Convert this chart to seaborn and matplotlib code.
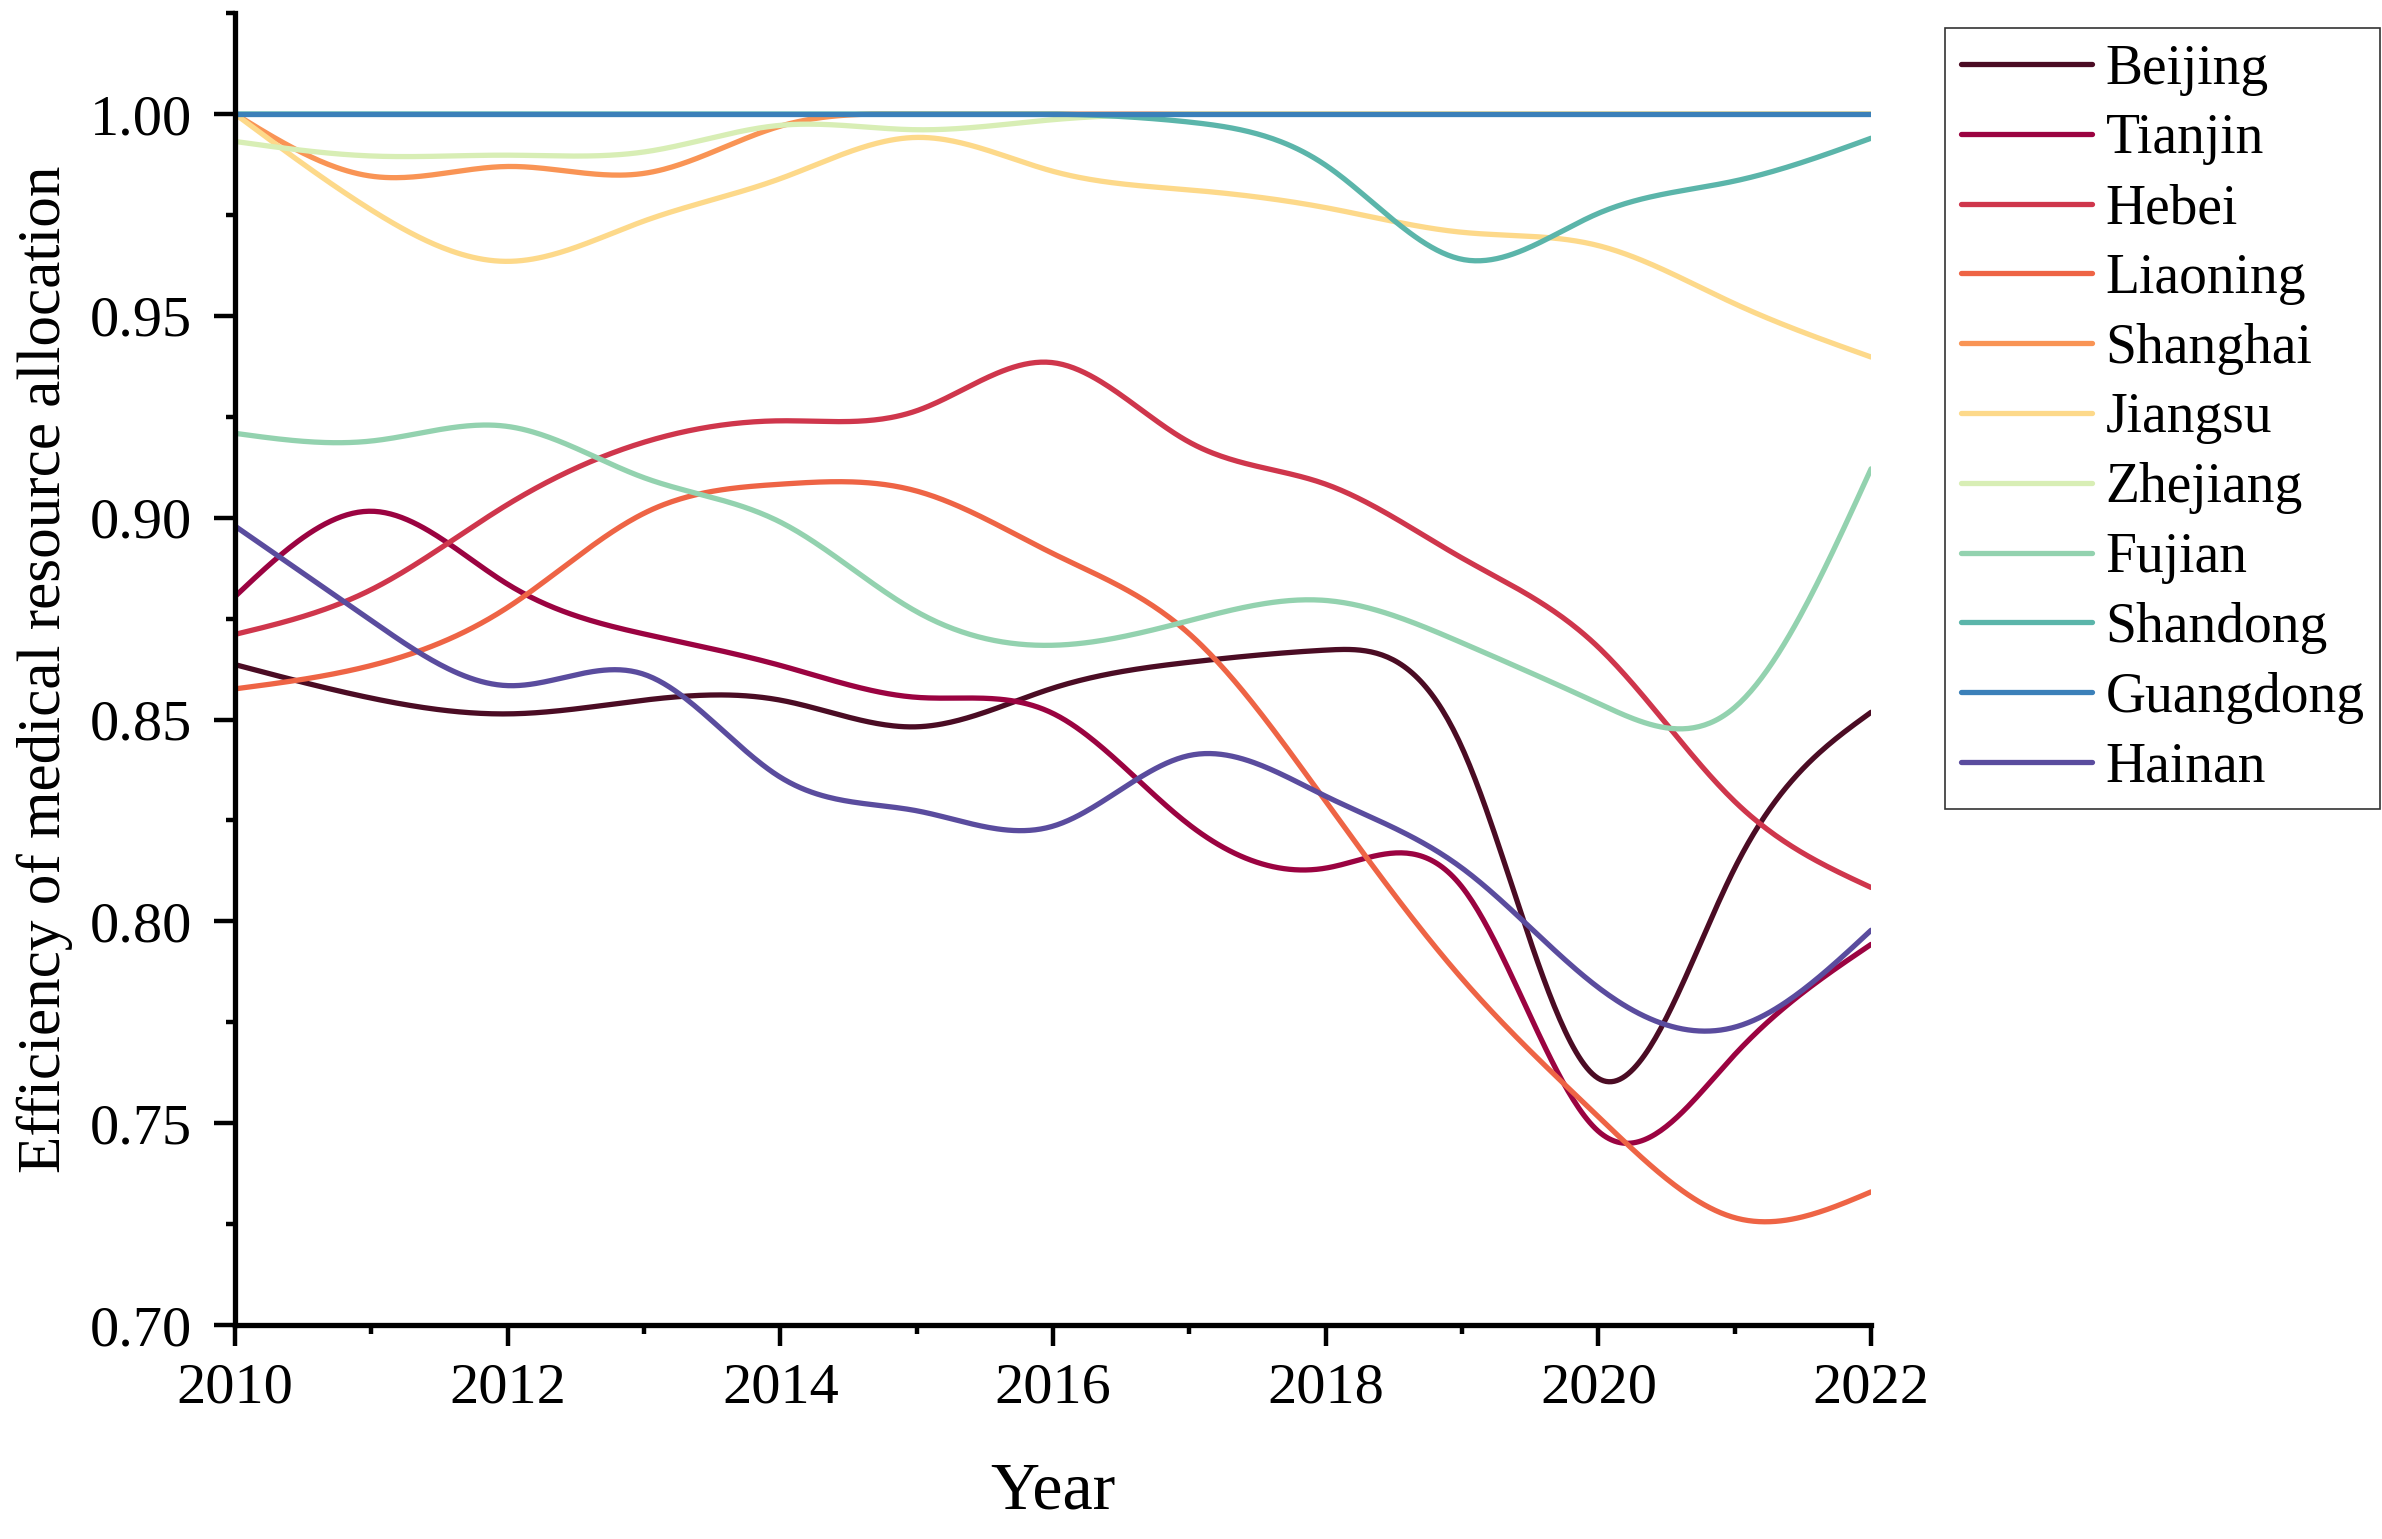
import numpy as np
import pandas as pd
import seaborn as sns
import matplotlib
matplotlib.use('Agg')
import matplotlib.pyplot as plt
from matplotlib.ticker import MultipleLocator

# yearly efficiency values
years = list(range(2010, 2023))
beijing = [0.8636, 0.8553, 0.8514, 0.8548, 0.8548, 0.8482, 0.8578, 0.8642, 0.8672, 0.8430, 0.7611, 0.8132, 0.8518]
tianjin = [0.8805, 0.9016, 0.8835, 0.8712, 0.8634, 0.8555, 0.8515, 0.8239, 0.8132, 0.8085, 0.7480, 0.7670, 0.7943]
hebei = [0.8711, 0.8822, 0.9033, 0.9187, 0.9240, 0.9265, 0.9384, 0.9187, 0.9083, 0.8900, 0.8679, 0.8297, 0.8084]
liaoning = [0.8576, 0.8634, 0.8778, 0.9011, 0.9083, 0.9066, 0.8911, 0.8712, 0.8297, 0.7858, 0.7516, 0.7266, 0.7330]
shanghai = [1.0, 0.9846, 0.9870, 0.9853, 0.9970, 1.0, 1.0, 1.0, 1.0, 1.0, 1.0, 1.0, 1.0]
jiangsu = [1.0, 0.9762, 0.9635, 0.9735, 0.9840, 0.9942, 0.9858, 0.9812, 0.9768, 0.9707, 0.9674, 0.9530, 0.9398]
zhejiang = [0.9932, 0.9896, 0.9898, 0.9906, 0.9972, 0.9961, 0.9986, 1.0, 1.0, 1.0, 1.0, 1.0, 1.0]
fujian = [0.9209, 0.9190, 0.9226, 0.9099, 0.8989, 0.8767, 0.8684, 0.8745, 0.8795, 0.8690, 0.8540, 0.8530, 0.9121]
shandong = [1.0, 1.0, 1.0, 1.0, 1.0, 1.0, 1.0, 0.9980, 0.9873, 0.9640, 0.9754, 0.9834, 0.9940]
guangdong = [1.0] * 13
hainan = [0.8979, 0.8745, 0.8584, 0.8612, 0.8357, 0.8274, 0.8236, 0.8411, 0.8310, 0.8132, 0.7836, 0.7738, 0.7978]

provinces = ['Beijing', 'Tianjin', 'Hebei', 'Liaoning', 'Shanghai', 'Jiangsu',
             'Zhejiang', 'Fujian', 'Shandong', 'Guangdong', 'Hainan']
series = [beijing, tianjin, hebei, liaoning, shanghai, jiangsu,
          zhejiang, fujian, shandong, guangdong, hainan]
colors = ['#4b0c24', '#9b0341', '#cf364c', '#ee6445', '#f99455', '#fdd98a',
          '#d8eeb5', '#93d2af', '#5bb5aa', '#3b80b9', '#5a4c9e']


def smooth(x, y, n=600):
    """ Natural cubic spline through the yearly points (line style only). """
    x = np.asarray(x, float)
    y = np.asarray(y, float)
    h = np.diff(x)
    k = len(x)
    a = np.zeros((k, k))
    r = np.zeros(k)
    a[0, 0] = a[-1, -1] = 1
    for i in range(1, k - 1):
        a[i, i - 1] = h[i - 1]
        a[i, i] = 2 * (h[i - 1] + h[i])
        a[i, i + 1] = h[i]
        r[i] = 6 * ((y[i + 1] - y[i]) / h[i] - (y[i] - y[i - 1]) / h[i - 1])
    m = np.linalg.solve(a, r)
    xs = np.linspace(x[0], x[-1], n)
    idx = np.clip(np.searchsorted(x, xs) - 1, 0, k - 2)
    x0, x1, hh = x[idx], x[idx + 1], h[idx]
    ys = (m[idx] * (x1 - xs) ** 3 / (6 * hh) + m[idx + 1] * (xs - x0) ** 3 / (6 * hh)
          + (y[idx] / hh - m[idx] * hh / 6) * (x1 - xs)
          + (y[idx + 1] / hh - m[idx + 1] * hh / 6) * (xs - x0))
    # efficiency scores cannot exceed 1
    return xs, np.minimum(ys, 1.0)


frames = []
for name, vals in zip(provinces, series):
    xs, ys = smooth(years, vals)
    frames.append(pd.DataFrame({'Year': xs, 'Efficiency': ys, 'Province': name}))
df = pd.concat(frames, ignore_index=True)

sns.set_style('ticks')
plt.rcParams['font.family'] = ['Liberation Serif', 'DejaVu Serif']
plt.rcParams['text.color'] = 'black'
plt.rcParams['axes.labelcolor'] = 'black'
plt.rcParams['xtick.color'] = 'black'
plt.rcParams['ytick.color'] = 'black'

fig = plt.figure(figsize=(23.82, 15.39), dpi=100)
ax = fig.add_axes([0.0987, 0.139, 0.6868, 0.8525])

sns.lineplot(data=df, x='Year', y='Efficiency', hue='Province', hue_order=provinces,
             palette=colors, estimator=None, sort=False, linewidth=3.8, ax=ax)

ax.set_xlim(2010, 2022)
ax.set_ylim(0.70, 1.025)
ax.xaxis.set_major_locator(MultipleLocator(2))
ax.xaxis.set_minor_locator(MultipleLocator(1))
ax.yaxis.set_major_locator(MultipleLocator(0.05))
ax.yaxis.set_minor_locator(MultipleLocator(0.025))
ax.yaxis.set_major_formatter(matplotlib.ticker.FormatStrFormatter('%.2f'))

for side in ['top', 'right']:
    ax.spines[side].set_visible(False)
for side in ['left', 'bottom']:
    ax.spines[side].set_linewidth(3.8)
    ax.spines[side].set_color('black')

ax.tick_params(axis='both', which='major', direction='out', length=15, width=3.2, labelsize=42,
               color='black', labelcolor='black')
ax.tick_params(axis='both', which='minor', direction='out', length=6.5, width=3.2, color='black')
ax.tick_params(axis='x', which='major', pad=12)
ax.tick_params(axis='y', which='major', pad=16)

ax.set_xlabel('Year', fontsize=49, labelpad=34, color='black')
ax.set_ylabel('Efficiency of medical resource allocation', fontsize=44, labelpad=12, color='black')

handles, labels = ax.get_legend_handles_labels()
leg = ax.legend(handles, labels, loc='upper left', bbox_to_anchor=(1945 / 2382, 1 - 28 / 1539),
                bbox_transform=fig.transFigure, frameon=True, fancybox=False,
                edgecolor='black', fontsize=40, handlelength=2.36, handletextpad=0.25,
                labelspacing=0.32, borderpad=0.28, borderaxespad=0)
leg.get_frame().set_linewidth(1.2)
for line in leg.get_lines():
    line.set_linewidth(3.8)
for txt in leg.get_texts():
    txt.set_color('black')

fig.savefig('out.png', dpi=100)
